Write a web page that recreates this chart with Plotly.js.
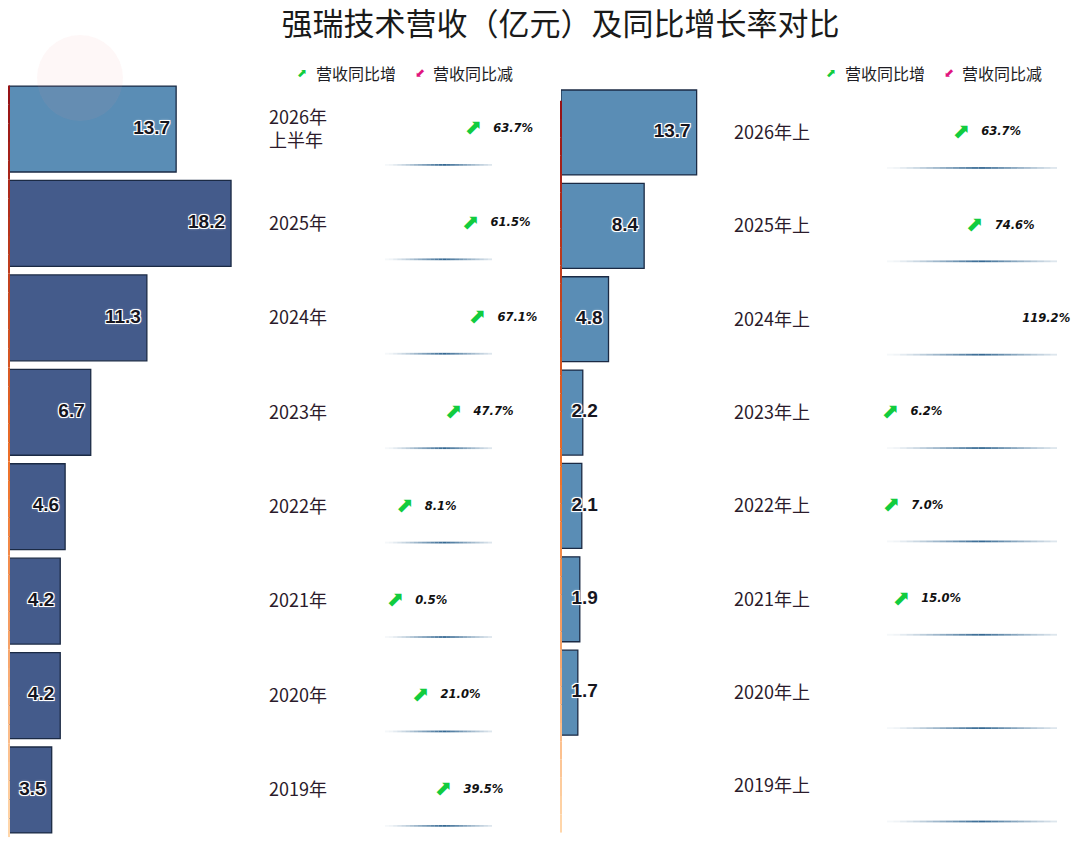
<!DOCTYPE html>
<html>
<head>
<meta charset="utf-8">
<script src="https://cdn.plot.ly/plotly-3.0.1.min.js"></script>
<style>html,body{margin:0;padding:0;background:#fff;}#chart{width:1080px;height:842px;}</style>
</head>
<body>
<div id="chart"></div>
<script>
// ---- data ----
const leftCategories = ['2026年<br>上半年','2025年','2024年','2023年','2022年','2021年','2020年','2019年'];
const leftRevenue = [13.7, 18.2, 11.3, 6.7, 4.6, 4.2, 4.2, 3.5];
const leftGrowth = [63.7, 61.5, 67.1, 47.7, 8.1, 0.5, 21.0, 39.5];

const rightCategories = ['2026年上','2025年上','2024年上','2023年上','2022年上','2021年上','2020年上','2019年上'];
const rightRevenue = [13.7, 8.4, 4.8, 2.2, 2.1, 1.9, 1.7, null];
const rightGrowth = [63.7, 74.6, 119.2, 6.2, 7.0, 15.0, null, null];

const titleText = '强瑞技术营收（亿元）及同比增长率对比';
const legendUp = '营收同比增';
const legendDown = '营收同比减';

// ---- styling ----
const W = 1080, H = 842;
const px = v => v / W;
const py = v => 1 - v / H;
const darkBar = '#445b8b', lightBar = '#5a8db5', barEdge = '#1b2a44';
const upColor = '#12cc3e', downColor = '#e0157e';
const leftScale = 12.2, rightScale = 9.9;   // pixels per 亿元
const growthScale = 1.232;                   // pixels per percentage point
const gStart = -10 / growthScale, gEnd = 112;
const valueFont = {family: 'Liberation Sans, Arial, sans-serif', size: 19, weight: 'bold', color: '#16161f',
  shadow: '-1px -1px 0 #fff, 1px -1px 0 #fff, -1px 1px 0 #fff, 1px 1px 0 #fff, 0 0 3px #fff'};
const pctFont = {family: 'DejaVu Sans, sans-serif', size: 11.5, weight: 'bold', style: 'italic', color: '#111'};
const catFont = {family: 'Noto Sans CJK SC, sans-serif', size: 18, color: '#2b1b2b'};
const fmtPct = v => v == null ? '' : v.toFixed(1) + '%';
const ghost = size => ({size: size, color: 'rgba(0,0,0,0)', line: {width: 0, color: 'rgba(0,0,0,0)'}});

const traces = [];
// bars + value labels (inside the bar end; pinned to the bar start when the bar is too short)
function barTraces(vals, cats, xa, ya, colors, scale) {
  const fits = vals.map(v => v != null && v * scale >= 40);
  return [
    {type: 'bar', orientation: 'h', x: vals, y: cats, xaxis: xa, yaxis: ya,
     marker: {color: colors, line: {color: barEdge, width: 1.3}}, showlegend: false, hoverinfo: 'skip'},
    {type: 'scatter', mode: 'markers+text', x: vals.map((v, i) => v == null ? null : (fits[i] ? v : 0)), y: cats,
     xaxis: xa, yaxis: ya, marker: ghost(fits.map(f => f ? 8 : 15)),
     text: vals.map(v => v == null ? '' : v.toFixed(1)),
     textposition: fits.map(f => f ? 'middle left' : 'middle right'),
     textfont: valueFont, cliponaxis: false, showlegend: false, hoverinfo: 'skip'}
  ];
}
traces.push(...barTraces(leftRevenue, leftCategories, 'x', 'y', leftRevenue.map((v, i) => i === 0 ? lightBar : darkBar), leftScale));
traces.push(...barTraces(rightRevenue, rightCategories, 'x2', 'y2', lightBar, rightScale));

// growth arrows (hidden when beyond the axis end, as in the source) + percentage text
function growthTraces(vals, cats, xa, ya, textCap) {
  return [
    {type: 'scatter', mode: 'text', x: vals, y: cats, xaxis: xa, yaxis: ya, cliponaxis: true,
     text: vals.map(v => (v == null || v > gEnd) ? '' : (v < 0 ? '⬋' : '⬈')), textposition: 'middle center',
     textfont: {family: 'DejaVu Sans, sans-serif', size: 21, color: vals.map(v => v != null && v < 0 ? downColor : upColor)},
     showlegend: false, hoverinfo: 'skip'},
    {type: 'scatter', mode: 'markers+text', x: vals.map(v => v == null ? null : Math.min(v, textCap)), y: cats,
     xaxis: xa, yaxis: ya, marker: ghost(30),
     text: vals.map(fmtPct), textposition: 'middle right', cliponaxis: false,
     textfont: pctFont, showlegend: false, hoverinfo: 'skip'}
  ];
}
traces.push(...growthTraces(leftGrowth, leftCategories, 'x3', 'y', 999));
traces.push(...growthTraces(rightGrowth, rightCategories, 'x4', 'y2', 97));

// ---- decorative shapes ----
const shapes = [];
function separators(n, yref, x0, x1) {
  const segs = 26;
  for (let i = 0; i < n; i++) {
    for (let s = 0; s < segs; s++) {
      const t = (s + 0.5) / segs;
      const op = Math.pow(1 - Math.abs(t - 0.55) / 0.55, 1.2) * 0.95;
      shapes.push({type: 'line', xref: 'paper', yref: yref,
        x0: px(x0 + (x1 - x0) * s / segs), x1: px(x0 + (x1 - x0) * (s + 1) / segs),
        y0: i + 0.38, y1: i + 0.38, line: {color: 'rgb(40,95,140)', width: 1.8}, opacity: Math.max(op, 0.04), layer: 'below'});
    }
  }
}
separators(leftCategories.length, 'y', 385, 492);
separators(rightCategories.length, 'y2', 887, 1057);

function mix(a, b, t) { return a.map((c, k) => Math.round(c + (b[k] - c) * t)); }
function axisLine(xPix, yref, yTop, yBot) {
  const segs = 40, stops = [[150, 18, 22], [238, 112, 40], [255, 214, 170]];
  for (let s = 0; s < segs; s++) {
    const t = s / (segs - 1);
    const c = t < 0.5 ? mix(stops[0], stops[1], t / 0.5) : mix(stops[1], stops[2], (t - 0.5) / 0.5);
    shapes.push({type: 'line', xref: 'paper', yref: yref, x0: px(xPix), x1: px(xPix),
      y0: yTop + (yBot - yTop) * s / segs, y1: yTop + (yBot - yTop) * (s + 1) / segs,
      line: {color: 'rgb(' + c.join(',') + ')', width: 2}, layer: 'above'});
  }
}
axisLine(9, 'y', -0.46, 7.5);
axisLine(561, 'y2', -0.34, 7.5);

shapes.push({type: 'circle', xref: 'paper', yref: 'paper', x0: px(37), x1: px(123), y0: py(121), y1: py(35),
  fillcolor: 'rgba(240,150,150,0.08)', line: {width: 0}, layer: 'above'});

// ---- legend annotations ----
const annotations = [];
function legend(xStart) {
  annotations.push({xref: 'paper', yref: 'paper', x: px(xStart), y: py(73), text: '⬈', showarrow: false,
    font: {family: 'DejaVu Sans', size: 12, color: upColor}, xanchor: 'center', yanchor: 'middle'});
  annotations.push({xref: 'paper', yref: 'paper', x: px(xStart + 12), y: py(73), text: legendUp, showarrow: false,
    font: {family: 'Noto Sans CJK SC, sans-serif', size: 16, color: '#1d1d24'}, xanchor: 'left', yanchor: 'middle'});
  annotations.push({xref: 'paper', yref: 'paper', x: px(xStart + 118), y: py(73), text: '⬋', showarrow: false,
    font: {family: 'DejaVu Sans', size: 12, color: downColor}, xanchor: 'center', yanchor: 'middle'});
  annotations.push({xref: 'paper', yref: 'paper', x: px(xStart + 129), y: py(73), text: legendDown, showarrow: false,
    font: {family: 'Noto Sans CJK SC, sans-serif', size: 16, color: '#1d1d24'}, xanchor: 'left', yanchor: 'middle'});
}
legend(302);
legend(831);

const hiddenX = {showgrid: false, zeroline: false, showticklabels: false, ticks: '', showline: false};
const layout = {
  width: W, height: H, margin: {l: 0, r: 0, t: 0, b: 0},
  paper_bgcolor: '#fff', plot_bgcolor: 'rgba(0,0,0,0)', showlegend: false,
  title: {text: titleText, x: 0.519, xanchor: 'center', y: py(24), yanchor: 'middle',
    font: {family: 'Noto Sans CJK SC, sans-serif', size: 31, color: '#1a1a1a'}},
  bargap: 0.09,
  xaxis: Object.assign({domain: [px(9), px(380)], range: [0, 371 / leftScale], anchor: 'free', position: 0}, hiddenX),
  xaxis2: Object.assign({domain: [px(561), px(880)], range: [0, 319 / rightScale], anchor: 'free', position: 0}, hiddenX),
  xaxis3: Object.assign({domain: [px(385), px(395 + gEnd * growthScale)], range: [gStart, gEnd], anchor: 'free', position: 0}, hiddenX),
  xaxis4: Object.assign({domain: [px(873), px(883 + gEnd * growthScale)], range: [gStart, gEnd], anchor: 'free', position: 0}, hiddenX),
  yaxis: {domain: [py(837.2), py(81.8)], type: 'category', range: [7.5, -0.5], anchor: 'free', position: px(264),
    side: 'right', showgrid: false, zeroline: false, showline: false, ticks: '', tickfont: catFont, ticklabelstandoff: 4},
  yaxis2: {domain: [py(832.7), py(85.8)], type: 'category', range: [7.5, -0.5], anchor: 'free', position: px(729),
    side: 'right', showgrid: false, zeroline: false, showline: false, ticks: '', tickfont: catFont, ticklabelstandoff: 4},
  shapes: shapes, annotations: annotations
};

Plotly.newPlot('chart', traces, layout, {staticPlot: true, displayModeBar: false});
</script>
</body>
</html>
